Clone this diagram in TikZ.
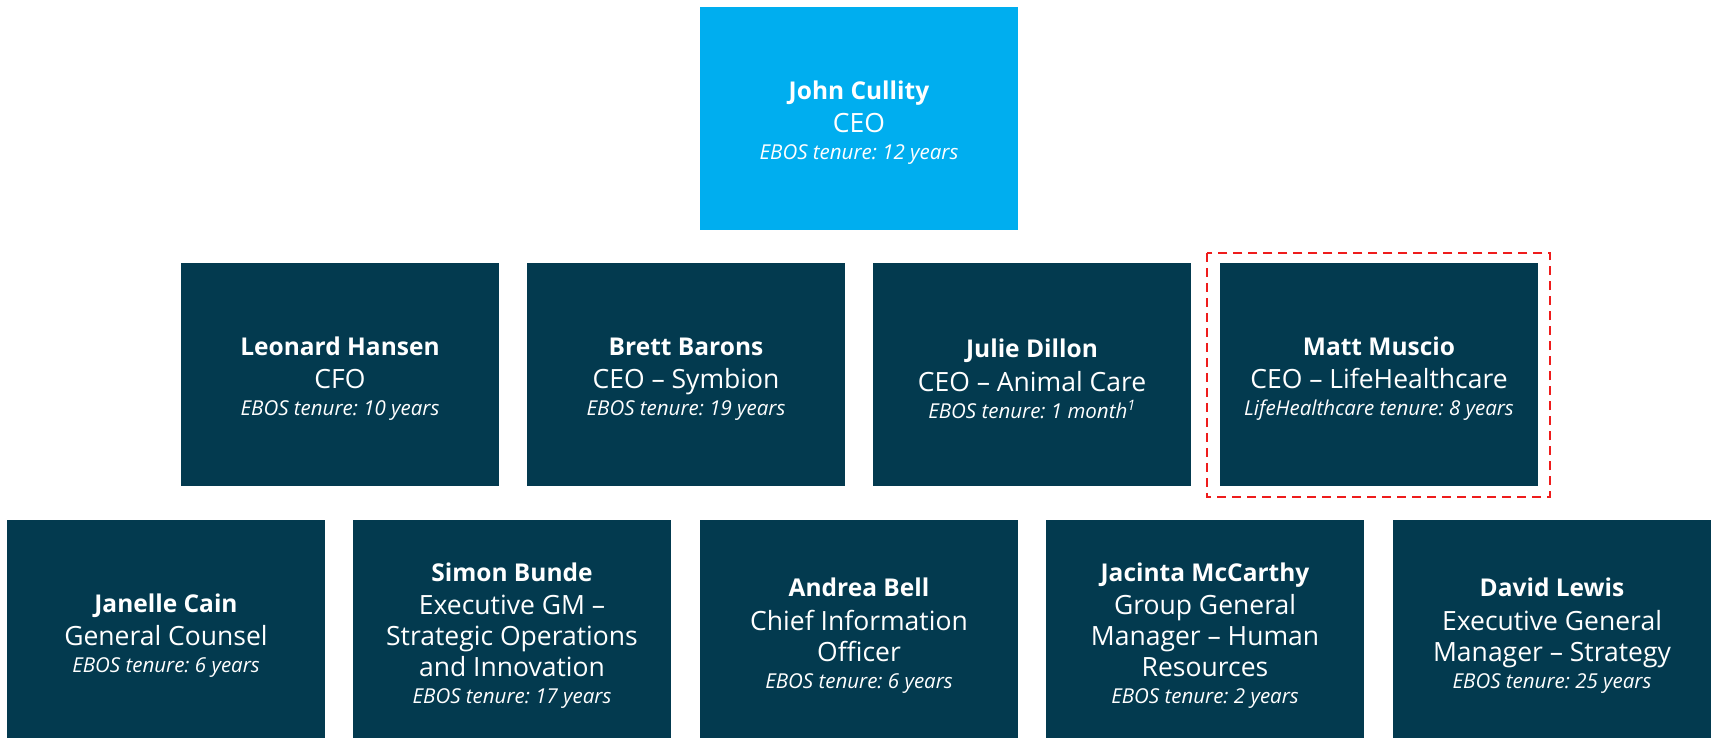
\documentclass[tikz,border=0pt]{standalone}
\usepackage{fontspec}
\setmainfont{Open Sans}
\frenchspacing
\definecolor{navy}{HTML}{033A4F}
\definecolor{skyblue}{HTML}{00AEEF}
\definecolor{hilite}{HTML}{EE1C1C}
\newcommand\nm[1]{\rule{0pt}{27pt}{\fontsize{24.5}{31}\selectfont\bfseries #1}\\[2.5pt]}
\newcommand\tl{\\[-4pt]}
\newcommand\ten[1]{{\fontsize{20.5}{27}\selectfont\itshape #1}}
\tikzset{
  box/.style={rectangle, fill=navy, minimum width=318pt, minimum height=223pt,
    inner sep=0pt, align=center, text=white, font=\fontsize{26.5}{31}\selectfont},
  topbox/.style={box, fill=skyblue},
  reddash/.style={draw=hilite, line width=2.5pt, dash pattern=on 9pt off 6pt}
}
\begin{document}
\begin{tikzpicture}[x=1pt,y=-1pt]
\useasboundingbox (0,0) rectangle (1713,737);
\node[topbox] (ceo) at (859,118.5) {\nm{John Cullity}CEO\tl\ten{EBOS tenure: 12 years}};
\node[box] (cfo) at (340,374.5) {\nm{Leonard Hansen}CFO\tl\ten{EBOS tenure: 10 years}};
\node[box] (symbion) at (686,374.5) {\nm{Brett Barons}CEO -- Symbion\tl\ten{EBOS tenure: 19 years}};
\node[box] (animal) at (1032,374.5) {\nm{Julie Dillon}CEO -- Animal Care\tl\ten{EBOS tenure: 1 month\textsuperscript{1}}};
\node[box] (life) at (1379,374.5) {\nm{Matt Muscio}CEO -- LifeHealthcare\tl\ten{LifeHealthcare tenure: 8 years}};
\draw[reddash] ([xshift=-13pt,yshift=10pt]life.north west) rectangle ([xshift=12pt,yshift=-11pt]life.south east);
\node[box] (counsel) at (166,631.5) {\nm{Janelle Cain}General Counsel\tl\ten{EBOS tenure: 6 years}};
\node[box] (strat) at (512,631.5) {\nm{Simon Bunde}Executive GM --\\Strategic Operations\\and Innovation\tl\ten{EBOS tenure: 17 years}};
\node[box] (cio) at (859,631.5) {\nm{Andrea Bell}Chief Information\\Officer\tl\ten{EBOS tenure: 6 years}};
\node[box] (hr) at (1205,631.5) {\nm{Jacinta McCarthy}Group General\\Manager -- Human\\Resources\tl\ten{EBOS tenure: 2 years}};
\node[box] (strategy) at (1552,631.5) {\nm{David Lewis}Executive General\\Manager -- Strategy\tl\ten{EBOS tenure: 25 years}};
\end{tikzpicture}
\end{document}
